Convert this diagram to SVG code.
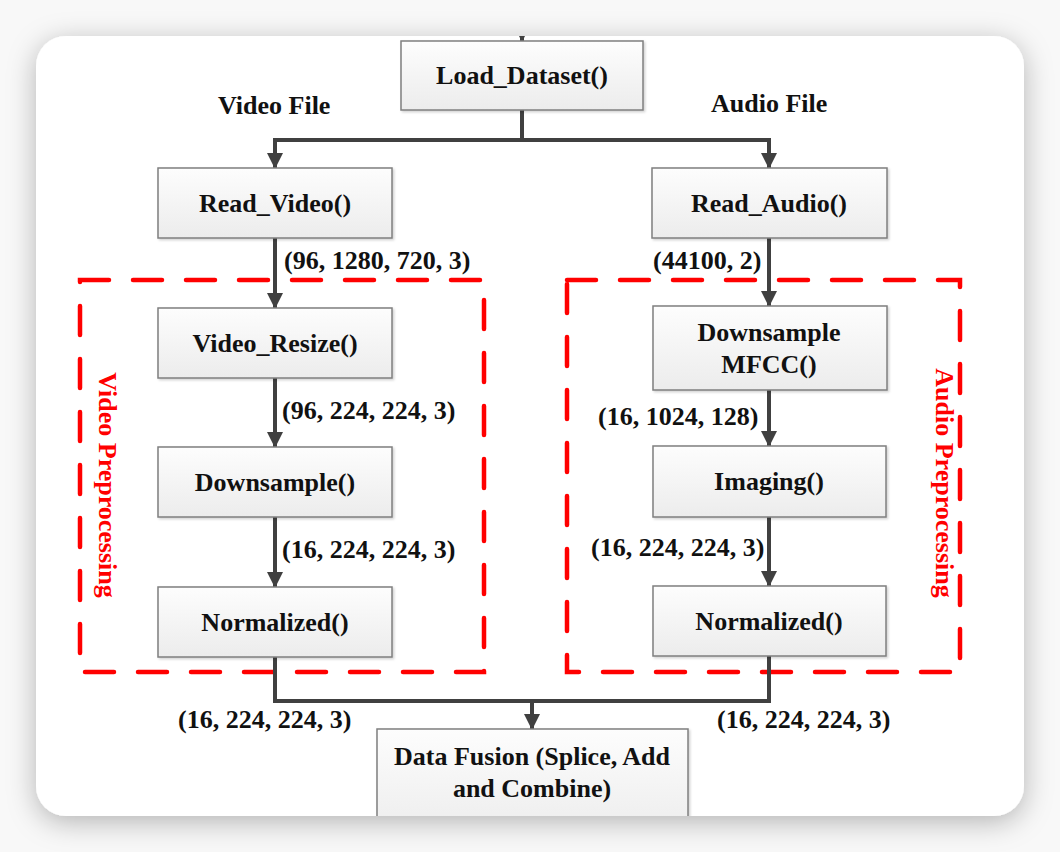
<svg xmlns="http://www.w3.org/2000/svg" width="1060" height="852" viewBox="0 0 1060 852">
<style>
.lbl{font-family:"Liberation Serif","Times New Roman",serif;font-weight:bold;font-size:26px;fill:#111}
.ctr{text-anchor:middle}
.node rect{fill:url(#nodeGrad);stroke:#7f7f7f;stroke-width:1.5;filter:url(#nshadow)}
.conn{fill:none;stroke:#404040;stroke-width:4}
.grp{fill:none;stroke:#ff0000;stroke-width:4.5;stroke-dasharray:29 24;stroke-linecap:round}
.grpt{font-family:"Liberation Serif","Times New Roman",serif;font-weight:bold;font-size:26px;fill:#ff0000;text-anchor:middle}
</style>
<defs>
<linearGradient id="nodeGrad" x1="0" y1="0" x2="0" y2="1">
<stop offset="0" stop-color="#fdfdfd"/>
<stop offset="1" stop-color="#ececec"/>
</linearGradient>
<filter id="cardShadow" x="-10%" y="-10%" width="120%" height="125%">
<feDropShadow dx="0" dy="6" stdDeviation="14" flood-color="#000" flood-opacity="0.28"/>
</filter>
<filter id="nshadow" x="-5%" y="-5%" width="115%" height="120%">
<feDropShadow dx="1.5" dy="1.5" stdDeviation="1" flood-color="#000" flood-opacity="0.18"/>
</filter>
<clipPath id="cardClip"><rect x="36" y="36" width="988" height="780" rx="30"/></clipPath>
<marker id="arr" markerUnits="userSpaceOnUse" markerWidth="16" markerHeight="16" viewBox="0 0 16 16" refX="15" refY="8" orient="auto">
<path d="M0,0 L16,8 L0,16 z" fill="#404040"/>
</marker>
</defs>
<rect x="0" y="0" width="1060" height="852" fill="#f8f8f8"/>
<rect x="36" y="36" width="988" height="780" rx="30" fill="#ffffff" filter="url(#cardShadow)"/>
<g clip-path="url(#cardClip)">
<g id="groups">
<rect class="grp" x="80" y="280" width="404" height="392"/>
<rect class="grp" x="567" y="280" width="393" height="392"/>
<text class="grpt" transform="translate(99,485) rotate(90)">Video Preprocessing</text>
<text class="grpt" transform="translate(936,483) rotate(90)">Audio Preprocessing</text>
</g>
<g id="connectors">
<path class="conn" d="M522,0 V41" marker-end="url(#arr)"/>
<path class="conn" d="M522,110 V140 H275 V168" marker-end="url(#arr)"/>
<path class="conn" d="M522,140 H769 V168" marker-end="url(#arr)"/>
<path class="conn" d="M275,238 V308" marker-end="url(#arr)"/>
<path class="conn" d="M275,378 V447" marker-end="url(#arr)"/>
<path class="conn" d="M275,517 V587" marker-end="url(#arr)"/>
<path class="conn" d="M769,238 V306" marker-end="url(#arr)"/>
<path class="conn" d="M769,390 V446" marker-end="url(#arr)"/>
<path class="conn" d="M769,517 V586" marker-end="url(#arr)"/>
<path class="conn" d="M275,657 V701 H769 V656"/>
<path class="conn" d="M532,701 V729" marker-end="url(#arr)"/>
</g>
<g id="labels">
<text class="lbl" x="218" y="114">Video File</text>
<text class="lbl" x="711" y="112">Audio File</text>
<text class="lbl" x="284" y="269">(96, 1280, 720, 3)</text>
<text class="lbl" x="653" y="269">(44100, 2)</text>
<text class="lbl" x="282" y="419">(96, 224, 224, 3)</text>
<text class="lbl" x="282" y="558">(16, 224, 224, 3)</text>
<text class="lbl" x="598" y="425">(16, 1024, 128)</text>
<text class="lbl" x="591" y="556">(16, 224, 224, 3)</text>
<text class="lbl" x="178" y="728">(16, 224, 224, 3)</text>
<text class="lbl" x="717" y="728">(16, 224, 224, 3)</text>
</g>
<g id="load_dataset" class="node"><rect x="401" y="41" width="242" height="69"/><text class="lbl ctr" x="522" y="84">Load_Dataset()</text></g>
<g id="read_video" class="node"><rect x="158" y="168" width="234" height="70"/><text class="lbl ctr" x="275" y="212">Read_Video()</text></g>
<g id="read_audio" class="node"><rect x="652" y="168" width="235" height="70"/><text class="lbl ctr" x="769" y="212">Read_Audio()</text></g>
<g id="video_resize" class="node"><rect x="158" y="308" width="234" height="70"/><text class="lbl ctr" x="275" y="352">Video_Resize()</text></g>
<g id="downsample" class="node"><rect x="158" y="447" width="234" height="70"/><text class="lbl ctr" x="275" y="491">Downsample()</text></g>
<g id="normalized_v" class="node"><rect x="158" y="587" width="234" height="70"/><text class="lbl ctr" x="275" y="631">Normalized()</text></g>
<g id="downsample_mfcc" class="node"><rect x="653" y="306" width="234" height="84"/><text class="lbl ctr" x="769" y="341">Downsample</text><text class="lbl ctr" x="769" y="373">MFCC()</text></g>
<g id="imaging" class="node"><rect x="653" y="446" width="233" height="71"/><text class="lbl ctr" x="769" y="490">Imaging()</text></g>
<g id="normalized_a" class="node"><rect x="653" y="586" width="233" height="70"/><text class="lbl ctr" x="769" y="630">Normalized()</text></g>
<g id="data_fusion" class="node"><rect x="377" y="729" width="311" height="110"/><text class="lbl ctr" x="532" y="765">Data Fusion (Splice, Add</text><text class="lbl ctr" x="532" y="797">and Combine)</text></g>
</g>
</svg>
